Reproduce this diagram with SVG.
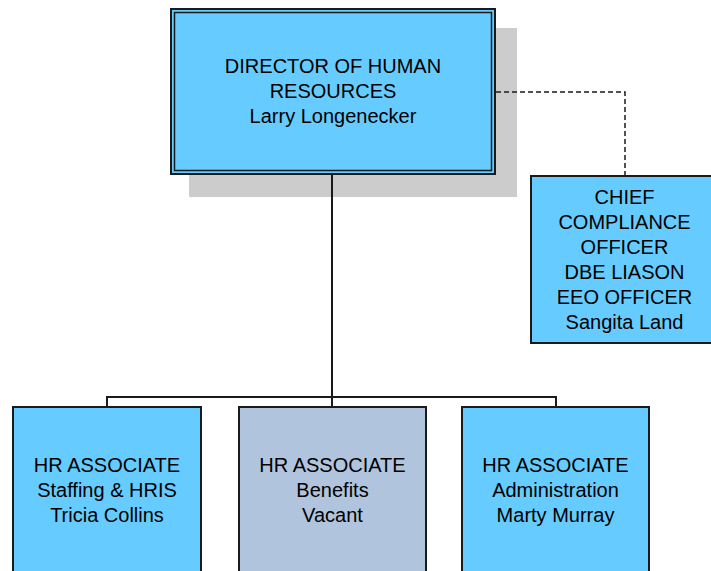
<svg xmlns="http://www.w3.org/2000/svg" width="711" height="571" viewBox="0 0 711 571">
  <style>
    .box { fill: #66CCFF; stroke: #1a1a1a; stroke-width: 2; }
    .vacant { fill: #B0C4DE; stroke: #1a1a1a; stroke-width: 2; }
    .shadow { fill: #CCCCCC; }
    .label { font-family: "Liberation Sans", Arial, sans-serif; font-size: 20px; fill: #000; text-anchor: middle; }
    .line { fill: none; stroke: #1a1a1a; stroke-width: 2; }
    .dash { fill: none; stroke: #1a1a1a; stroke-width: 1.5; stroke-dasharray: 5 3; }
  </style>
  <rect width="711" height="571" fill="#FFFFFF"/>

  <!-- drop shadow sits beneath the reporting lines -->
  <rect id="director-shadow" class="shadow" x="189" y="28" width="328" height="169"/>

  <!-- reporting lines -->
  <g id="connectors">
    <path class="line" d="M332 175 V397"/>
    <path class="line" d="M107 407 V397 H556 V407" stroke-width="1.5"/>
    <path class="line" d="M332 397 V407"/>
    <path class="dash" d="M496 92 H625 V176"/>
  </g>

  <!-- director with double frame -->
  <g id="director">
    <rect class="box" x="171" y="9" width="324" height="165" stroke-width="2.5"/>
    <rect fill="none" stroke="#1a1a1a" stroke-width="1.5" x="174.5" y="12.5" width="317" height="158"/>
    <text class="label" x="333" y="73">DIRECTOR OF HUMAN</text>
    <text class="label" x="333" y="98">RESOURCES</text>
    <text class="label" x="333" y="123">Larry Longenecker</text>
  </g>

  <g id="compliance">
    <rect class="box" x="531" y="176" width="200" height="167"/>
    <text class="label" x="624.5" y="204">CHIEF</text>
    <text class="label" x="624.5" y="229">COMPLIANCE</text>
    <text class="label" x="624.5" y="254">OFFICER</text>
    <text class="label" x="624.5" y="279">DBE LIASON</text>
    <text class="label" x="624.5" y="304">EEO OFFICER</text>
    <text class="label" x="624.5" y="329">Sangita Land</text>
  </g>

  <g id="staffing">
    <rect class="box" x="13" y="407" width="188" height="180"/>
    <text class="label" x="107" y="472">HR ASSOCIATE</text>
    <text class="label" x="107" y="497">Staffing &amp; HRIS</text>
    <text class="label" x="107" y="522">Tricia Collins</text>
  </g>

  <g id="benefits">
    <rect class="vacant" x="239" y="407" width="187" height="180"/>
    <text class="label" x="332.5" y="472">HR ASSOCIATE</text>
    <text class="label" x="332.5" y="497">Benefits</text>
    <text class="label" x="332.5" y="522">Vacant</text>
  </g>

  <g id="administration">
    <rect class="box" x="462" y="407" width="187" height="180"/>
    <text class="label" x="555.5" y="472">HR ASSOCIATE</text>
    <text class="label" x="555.5" y="497">Administration</text>
    <text class="label" x="555.5" y="522">Marty Murray</text>
  </g>
</svg>
